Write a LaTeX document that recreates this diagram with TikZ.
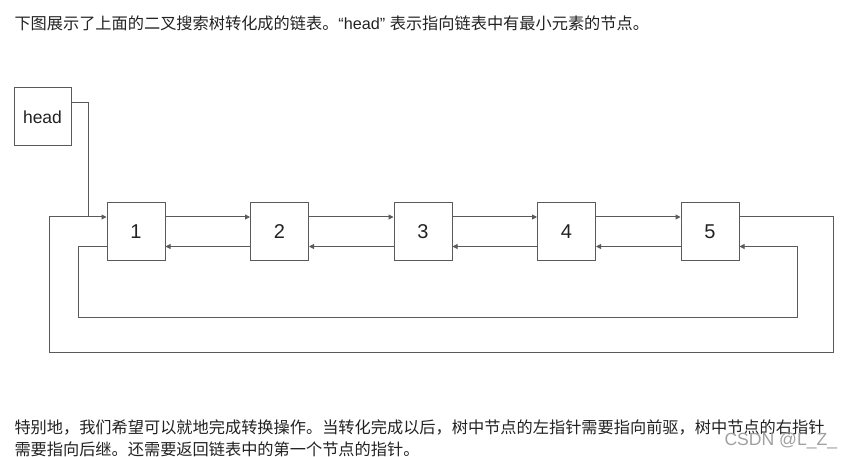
\documentclass[tikz,border=0pt]{standalone}
\usepackage{fontspec}
\setmainfont{Noto Sans CJK SC}
\newfontfamily\arial{Liberation Sans}
\usetikzlibrary{arrows.meta}
\definecolor{linegray}{RGB}{90,90,90}
\definecolor{textgray}{RGB}{34,34,34}
\definecolor{markgray}{RGB}{160,160,160}

\begin{document}
\begin{tikzpicture}[x=1pt, y=-1pt, node distance={143.5pt}, line width=1pt, draw=linegray,
        main/.style = {draw=linegray, rectangle, minimum size=58pt, inner sep=0pt, font=\arial\fontsize{20}{24}\selectfont, text=textgray},
        ptr/.style = {-{Triangle[length=5pt,width=5pt]}, draw=linegray},
        txt/.style = {anchor=base west, inner sep=0pt, text=textgray, font=\fontsize{16.2}{22}\selectfont}]
        \useasboundingbox (0,0) rectangle (852,457);
        % texts
        \node[txt] (caption) at (14,29.5) {下图展示了上面的二叉搜索树转化成的链表。{\arial “head” }表示指向链表中有最小元素的节点。};
        \node[txt] (note1) at (14,433.5) {特别地，我们希望可以就地完成转换操作。当转化完成以后，树中节点的左指针需要指向前驱，树中节点的右指针};
        \node[txt] (note2) at (14,455.5) {需要指向后继。还需要返回链表中的第一个节点的指针。};
        \node[anchor=base west, inner sep=0pt, text=markgray, font=\arial\fontsize{17.6}{20}\selectfont] (mark) at (724,445) {CSDN @L\_Z\_};
        % list
        \node[main, minimum width=57pt, font=\arial\fontsize{17.5}{20}\selectfont] (head) at (42.5,117) {head};
        \node[main] (1) at (136,232) {1};
        \node[main] (2) [right of=1] {2};
        \node[main] (3) [right of=2] {3};
        \node[main] (4) [right of=3] {4};
        \node[main] (5) [right of=4] {5};
        \coordinate (hj) at (88,217);
        \coordinate (outerR) at (833,352);
        \coordinate (outerL) at (49,352);
        \coordinate (innerL) at (78,318);
        \coordinate (innerR) at (797,318);
        \foreach \a/\b in {1/2, 2/3, 3/4, 4/5} {
            \draw[ptr] ([yshift=15pt]\a.east) -- ([yshift=15pt]\b.west);
            \draw[ptr] ([yshift=-14.5pt]\b.west) -- ([yshift=-14.5pt]\a.east);
        }
        \draw[ptr] ([yshift=15pt]5.east) -| (outerR) -- (outerL) |- ([yshift=15pt]1.west);
        \draw[ptr] ([yshift=-14.5pt]1.west) -| (innerL) -- (innerR) |- ([yshift=-14.5pt]5.east);
        \draw ([yshift=14.5pt]head.east) -| (hj);
    \end{tikzpicture}
\end{document}
